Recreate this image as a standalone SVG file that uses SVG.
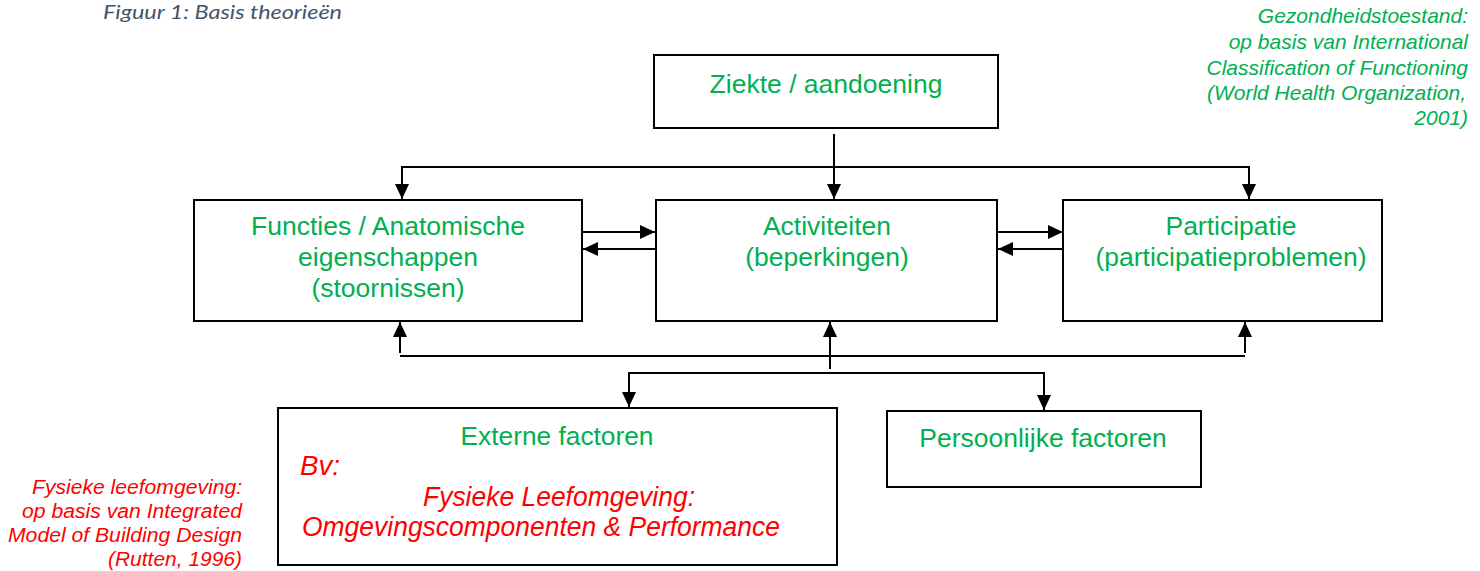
<svg xmlns="http://www.w3.org/2000/svg" width="1480" height="571" viewBox="0 0 1480 571">
  <defs>
    <marker id="arrow" markerUnits="userSpaceOnUse" markerWidth="16" markerHeight="14" refX="15" refY="7" orient="auto">
      <path d="M0,0 L15,7 L0,14 Z" fill="#000"/>
    </marker>
    <style>
      .box { fill: #fff; stroke: #000; stroke-width: 2; }
      .lbl { font-family: "Liberation Sans", Arial, sans-serif; font-size: 26.5px; fill: #00B050; text-anchor: middle; }
      .red { font-family: "Liberation Sans", Arial, sans-serif; font-style: italic; fill: #FF0000; }
      .note { font-family: "Liberation Sans", Arial, sans-serif; font-style: italic; font-size: 21px; fill: #00B050; text-anchor: end; }
      .cap { font-family: Lato, "Liberation Sans", sans-serif; font-style: italic; font-size: 19px; fill: #44546A; }
      .wire { fill: none; stroke: #000; stroke-width: 2; }
      .arr { fill: none; stroke: #000; stroke-width: 2; marker-end: url(#arrow); }
    </style>
  </defs>

  <rect width="1480" height="571" fill="#fff"/>

  <!-- caption -->
  <text class="cap" x="103" y="19" textLength="239" lengthAdjust="spacingAndGlyphs">Figuur 1: Basis theorieën</text>

  <!-- source notes -->
  <g id="note-icf">
    <text class="note" x="1468" y="23">Gezondheidstoestand:</text>
    <text class="note" x="1468" y="49">op basis van International</text>
    <text class="note" x="1468" y="75">Classification of Functioning</text>
    <text class="note" x="1466" y="100">(World Health Organization,</text>
    <text class="note" x="1468" y="125">2001)</text>
  </g>
  <g id="note-imbd">
    <text class="red" font-size="20" text-anchor="end" x="242" y="494" textLength="210" lengthAdjust="spacingAndGlyphs">Fysieke leefomgeving:</text>
    <text class="red" font-size="20" text-anchor="end" x="242" y="518" textLength="220" lengthAdjust="spacingAndGlyphs">op basis van Integrated</text>
    <text class="red" font-size="20" text-anchor="end" x="242" y="542" textLength="234" lengthAdjust="spacingAndGlyphs">Model of Building Design</text>
    <text class="red" font-size="20" text-anchor="end" x="242" y="566" textLength="134" lengthAdjust="spacingAndGlyphs">(Rutten, 1996)</text>
  </g>

  <!-- connectors -->
  <g id="connectors">
    <line class="arr" x1="834" y1="134" x2="834" y2="199"/>
    <line class="wire" x1="402" y1="167" x2="1249" y2="167"/>
    <line class="arr" x1="402" y1="166" x2="402" y2="199"/>
    <line class="arr" x1="1249" y1="166" x2="1249" y2="199"/>

    <line class="arr" x1="583" y1="232" x2="655" y2="232"/>
    <line class="arr" x1="655" y1="249" x2="583" y2="249"/>
    <line class="arr" x1="998" y1="232" x2="1063" y2="232"/>
    <line class="arr" x1="1063" y1="249" x2="998" y2="249"/>

    <line class="wire" x1="400" y1="356" x2="1245" y2="356"/>
    <line class="arr" x1="400" y1="353" x2="400" y2="322"/>
    <line class="arr" x1="830" y1="369" x2="830" y2="322"/>
    <line class="arr" x1="1245" y1="353" x2="1245" y2="322"/>

    <line class="wire" x1="629" y1="373" x2="1044" y2="373"/>
    <line class="arr" x1="629" y1="372" x2="629" y2="407"/>
    <line class="arr" x1="1044" y1="372" x2="1044" y2="410"/>
  </g>

  <!-- nodes -->
  <g id="ziekte">
    <rect class="box" x="654" y="55" width="344" height="73"/>
    <text class="lbl" x="826" y="93">Ziekte / aandoening</text>
  </g>

  <g id="functies">
    <rect class="box" x="194" y="200" width="388" height="121"/>
    <text class="lbl" x="388" y="235">Functies / Anatomische</text>
    <text class="lbl" x="388" y="266">eigenschappen</text>
    <text class="lbl" x="388" y="297">(stoornissen)</text>
  </g>

  <g id="activiteiten">
    <rect class="box" x="656" y="200" width="341" height="121"/>
    <text class="lbl" x="827" y="235">Activiteiten</text>
    <text class="lbl" x="827" y="266">(beperkingen)</text>
  </g>

  <g id="participatie">
    <rect class="box" x="1063" y="200" width="319" height="121"/>
    <text class="lbl" x="1231" y="235">Participatie</text>
    <text class="lbl" x="1231" y="266">(participatieproblemen)</text>
  </g>

  <g id="externe">
    <rect class="box" x="278" y="408" width="559" height="157" stroke-width="2.5"/>
    <text class="lbl" x="557" y="445" font-size="26" textLength="193" lengthAdjust="spacingAndGlyphs">Externe factoren</text>
    <text class="red" font-size="27" x="300" y="475" textLength="40" lengthAdjust="spacingAndGlyphs">Bv:</text>
    <text class="red" font-size="27" text-anchor="middle" x="559" y="506" textLength="272" lengthAdjust="spacingAndGlyphs">Fysieke Leefomgeving:</text>
    <text class="red" font-size="27" x="302" y="536" textLength="478" lengthAdjust="spacingAndGlyphs">Omgevingscomponenten &amp; Performance</text>
  </g>

  <g id="persoonlijke">
    <rect class="box" x="887" y="411" width="314" height="76"/>
    <text class="lbl" x="1043" y="447">Persoonlijke factoren</text>
  </g>
</svg>
